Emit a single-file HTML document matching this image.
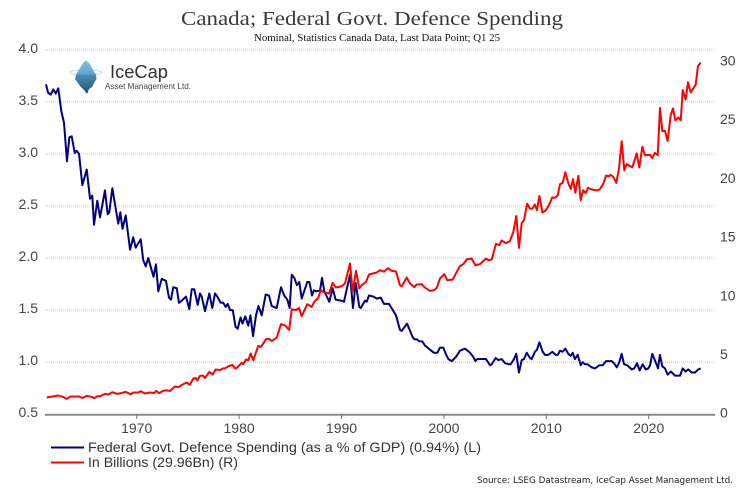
<!DOCTYPE html>
<html lang="en">
<head>
<meta charset="utf-8">
<title>Canada; Federal Govt. Defence Spending</title>
<style>
html,body{margin:0;padding:0;background:#fff;}
body{width:750px;height:495px;overflow:hidden;}
svg{display:block;}
</style>
</head>
<body>
<svg id="chart" xmlns="http://www.w3.org/2000/svg" width="750" height="495" viewBox="0 0 750 495">
  <defs>
    <linearGradient id="ice-top" x1="0" y1="0" x2="0" y2="1"><stop offset="0" stop-color="#86c0dc"/><stop offset="1" stop-color="#5fa6c9"/></linearGradient>
    <linearGradient id="ice-bottom" x1="0" y1="0" x2="0" y2="1"><stop offset="0" stop-color="#4b8fb3"/><stop offset="1" stop-color="#1d4f70"/></linearGradient>
  </defs>
  <rect x="0" y="0" width="750" height="495" fill="#ffffff"/>
  <text x="372" y="25" text-anchor="middle" textLength="382" lengthAdjust="spacingAndGlyphs" font-family="'Liberation Serif',serif" font-size="20" fill="#3a3a3a">Canada; Federal Govt. Defence Spending</text>
  <text x="377" y="41" text-anchor="middle" textLength="246" lengthAdjust="spacingAndGlyphs" font-family="'Liberation Serif',serif" font-size="10" fill="#111">Nominal, Statistics Canada Data, Last Data Point; Q1 25</text>
  <g id="grid"></g>
  <g id="axes"></g>
  <g id="series"></g>
  <g>
    <ellipse cx="85.5" cy="72.5" rx="16" ry="2.6" fill="none" stroke="#bcdcec" stroke-width="1"/>
    <polygon points="86,60.5 90,64 93,70 96,74.5 76,74.5 80,68 83,63" fill="url(#ice-top)"/>
    <polygon points="76,74.5 96,74.5 96.5,79 94,83 92,87 89,89 87,94 84,90 80,86 78,83 75,79" fill="url(#ice-bottom)"/>
    <text x="110" y="78" textLength="58" lengthAdjust="spacingAndGlyphs" font-family="'Liberation Sans',sans-serif" font-size="18" fill="#333">IceCap</text>
    <text x="105" y="89" textLength="86" lengthAdjust="spacingAndGlyphs" font-family="'Liberation Sans',sans-serif" font-size="8.5" fill="#444">Asset Management Ltd.</text>
  </g>
  <g>
    <line x1="51" y1="447.5" x2="84" y2="447.5" stroke="#000080" stroke-width="2"/>
    <text x="88" y="452" textLength="393" lengthAdjust="spacingAndGlyphs" font-family="'Liberation Sans',sans-serif" font-size="14" fill="#333">Federal Govt. Defence Spending (as a % of GDP) (0.94%) (L)</text>
    <line x1="51" y1="462.5" x2="84" y2="462.5" stroke="#ff0000" stroke-width="2"/>
    <text x="88" y="467" textLength="150" lengthAdjust="spacingAndGlyphs" font-family="'Liberation Sans',sans-serif" font-size="14" fill="#333">In Billions (29.96Bn) (R)</text>
  </g>
  <text x="477" y="483" textLength="256" lengthAdjust="spacingAndGlyphs" font-family="'DejaVu Sans',sans-serif" font-size="8.5" fill="#222">Source: LSEG Datastream, IceCap Asset Management Ltd.</text>
</svg>
<script>
var leftTicks = ["0.5","1.0","1.5","2.0","2.5","3.0","3.5","4.0"];
var rightTicks = ["0","5","10","15","20","25","30"];
var xTicks = ["1970","1980","1990","2000","2010","2020"];

var gdpYears = [
1961.14,1961.34,1961.6,1961.86,1962.09,1962.34,1962.64,1962.9,1963.19,1963.42,
1963.65,1963.95,1964.14,1964.37,1964.69,1965.12,1965.44,1965.66,1965.83,1966.15,
1966.42,1966.9,1967.17,1967.32,1967.62,1968.2,1968.4,1968.61,1968.93,1969.35,
1969.66,1969.9,1970.39,1970.64,1970.88,1971.13,1971.64,1971.88,1972.11,1972.44,
1972.86,1973.15,1973.35,1973.57,1973.91,1974.13,1974.39,1974.81,1975.14,1975.37,
1975.62,1975.96,1976.18,1976.35,1976.67,1977.09,1977.38,1977.65,1977.87,1978.2,
1978.46,1978.69,1978.89,1979.11,1979.38,1979.65,1979.86,1980.14,1980.33,1980.6,
1980.9,1981.11,1981.36,1981.65,1981.89,1982.21,1982.6,1982.92,1983.18,1983.67,
1984.09,1984.41,1984.71,1984.94,1985.14,1985.39,1985.65,1985.88,1986.11,1986.66,
1986.86,1987.12,1987.31,1987.51,1987.9,1988.1,1988.32,1988.81,1989.14,1989.43,
1990.02,1990.24,1990.83,1991.12,1991.39,1991.74,1991.88,1992.29,1992.46,1992.69,
1993.11,1993.44,1993.83,1994.15,1994.64,1995.32,1995.71,1995.88,1996.4,1996.95,
1997.11,1997.34,1997.6,1997.89,1998.15,1998.64,1999.03,1999.36,1999.62,1999.94,
2000.18,2000.43,2000.76,2001.18,2001.57,2002.06,2002.55,2002.87,2003.07,2003.26,
2004.11,2004.5,2004.67,2005.06,2005.31,2005.64,2005.97,2006.29,2006.52,2006.85,
2007.07,2007.33,2007.6,2007.82,2008.09,2008.41,2008.57,2008.9,2009.09,2009.32,
2009.65,2009.87,2010.2,2010.59,2010.92,2011.11,2011.34,2011.6,2011.86,2012.15,
2012.38,2012.58,2012.8,2013.07,2013.36,2013.55,2013.78,2014.0,2014.43,2014.75,
2015.18,2015.51,2015.83,2016.39,2016.61,2016.88,2017.13,2017.36,2017.59,2017.91,
2018.34,2018.59,2018.86,2019.12,2019.41,2019.71,2019.96,2020.13,2020.35,2020.68,
2020.91,2021.1,2021.33,2021.59,2021.85,2022.18,2022.57,2023.06,2023.32,2023.61,
2023.87,2024.2,2024.52,2024.84,2025.08
];
var gdpShare = [
3.67,3.59,3.57,3.62,3.58,3.63,3.41,3.30,2.93,3.16,
3.17,3.01,3.03,3.00,2.70,2.85,2.57,2.60,2.32,2.55,
2.39,2.65,2.42,2.44,2.67,2.33,2.44,2.28,2.41,2.08,
2.20,2.10,2.18,1.98,1.92,2.00,1.82,1.94,1.68,1.80,
1.78,1.62,1.60,1.72,1.71,1.57,1.59,1.63,1.51,1.70,
1.70,1.55,1.66,1.63,1.49,1.66,1.52,1.66,1.63,1.57,
1.57,1.53,1.56,1.50,1.50,1.34,1.32,1.43,1.37,1.44,
1.35,1.45,1.25,1.45,1.54,1.45,1.65,1.64,1.54,1.52,
1.72,1.64,1.60,1.52,1.84,1.81,1.74,1.77,1.61,1.77,
1.77,1.64,1.69,1.68,1.69,1.81,1.68,1.58,1.71,1.60,
1.59,1.58,1.84,1.52,1.76,1.53,1.52,1.59,1.58,1.64,
1.63,1.61,1.62,1.56,1.56,1.45,1.31,1.30,1.37,1.24,
1.22,1.22,1.20,1.20,1.16,1.12,1.09,1.09,1.14,1.14,
1.08,1.03,1.01,1.05,1.11,1.13,1.09,1.05,1.01,1.03,
1.03,0.97,0.98,1.04,1.02,1.03,0.99,0.98,0.98,1.03,
1.08,0.90,1.02,1.03,1.09,1.04,1.03,1.10,1.12,1.19,
1.10,1.07,1.07,1.10,1.07,1.07,1.11,1.10,1.13,1.08,
1.06,1.09,1.03,1.07,0.97,1.00,0.98,0.98,0.95,0.94,
0.97,0.97,1.01,1.01,0.99,0.95,1.00,1.08,0.98,0.97,
0.93,0.94,0.99,0.92,0.98,0.93,0.94,0.97,1.08,1.00,
0.94,1.07,0.96,0.94,0.88,0.91,0.87,0.87,0.94,0.91,
0.93,0.90,0.90,0.93,0.94
];

var billionYears = [
1961.21,1962.34,1962.83,1963.16,1963.55,1964.3,1964.73,1965.12,1965.61,1965.86,
1966.15,1966.42,1966.9,1967.23,1967.62,1968.11,1968.54,1968.93,1969.41,1969.67,
1970.16,1970.39,1970.81,1971.3,1971.72,1971.91,1972.21,1972.54,1972.93,1973.25,
1973.74,1974.06,1974.55,1974.88,1975.18,1975.53,1975.76,1975.92,1976.18,1976.45,
1976.67,1977.09,1977.42,1977.71,1978.13,1978.4,1978.65,1978.95,1979.34,1979.63,
1979.82,1980.25,1980.41,1980.67,1980.9,1981.13,1981.39,1981.87,1982.14,1982.63,
1982.89,1983.18,1983.67,1984.09,1984.48,1984.89,1985.14,1985.53,1985.85,1986.11,
1986.66,1987.09,1987.34,1987.73,1987.97,1988.22,1988.78,1989.14,1989.46,1990.02,
1990.34,1990.83,1991.09,1991.42,1991.74,1991.97,1992.39,1992.69,1993.44,1993.76,
1994.15,1994.54,1994.9,1995.32,1995.71,1995.88,1996.37,1996.69,1997.11,1997.34,
1997.83,1998.15,1998.64,1999.03,1999.3,1999.62,2000.04,2000.33,2000.86,2001.25,
2001.57,2001.89,2002.23,2002.71,2003.07,2003.52,2004.11,2004.34,2004.67,2005.09,
2005.41,2005.64,2006.06,2006.45,2006.78,2007.07,2007.33,2007.6,2007.82,2008.13,
2008.41,2008.65,2008.87,2009.09,2009.32,2009.63,2009.97,2010.33,2010.57,2010.87,
2011.12,2011.34,2011.6,2011.86,2012.17,2012.39,2012.61,2012.83,2013.13,2013.36,
2013.6,2013.85,2014.07,2014.43,2014.92,2015.24,2015.57,2015.83,2016.09,2016.29,
2016.54,2016.84,2017.1,2017.36,2017.62,2017.85,2018.17,2018.4,2018.83,2019.08,
2019.38,2019.64,2020.13,2020.35,2020.59,2020.88,2021.1,2021.33,2021.59,2021.85,
2022.15,2022.37,2022.6,2022.89,2023.13,2023.32,2023.61,2023.84,2024.1,2024.59,
2024.81,2025.08
];
var billionValues = [
1.42,1.59,1.47,1.30,1.51,1.51,1.39,1.56,1.47,1.36,
1.53,1.53,1.73,1.68,1.87,1.73,1.81,1.90,1.70,1.85,
1.85,1.96,1.76,1.85,1.81,1.98,1.79,1.98,2.04,1.98,
2.36,2.30,2.56,2.70,2.50,3.04,3.09,2.87,3.26,3.30,
3.09,3.60,3.38,3.81,3.75,3.89,3.92,4.09,4.20,3.89,
3.98,4.37,4.26,4.66,4.60,5.17,4.60,5.83,5.73,6.39,
6.43,6.24,6.52,7.67,7.56,7.18,8.94,8.86,9.05,8.35,
9.37,9.14,9.57,9.91,10.56,10.42,10.28,11.18,10.79,10.90,
11.13,12.84,10.42,12.21,10.71,10.99,11.27,11.90,12.07,12.27,
12.14,12.44,12.21,12.16,10.99,10.90,11.64,11.13,10.82,11.05,
11.07,10.79,10.50,10.56,10.76,11.56,11.93,11.41,11.47,12.12,
12.61,12.78,13.18,13.26,12.69,12.78,13.26,13.12,13.18,14.52,
14.40,14.80,14.57,14.74,15.53,16.88,14.17,16.29,16.52,17.93,
17.50,17.52,17.86,17.38,18.59,17.18,17.38,17.95,18.46,18.44,
18.65,19.59,19.70,20.61,19.62,19.18,20.03,18.87,20.30,18.23,
19.08,18.84,19.29,19.14,19.06,19.17,19.65,20.32,20.27,20.38,
20.21,19.70,20.93,23.25,20.78,21.30,21.12,21.04,22.21,21.01,
22.77,22.06,22.09,21.81,22.26,22.06,26.09,24.11,24.13,23.28,
25.47,26.04,25.04,25.27,25.04,27.60,26.81,28.28,27.40,28.08,
29.64,29.96
];

var SVG_NS = "http://www.w3.org/2000/svg";
function xScale(year){ return 136.7 + (year - 1970) * 10.24; }
function yLeft(v){ return 414.2 - (v - 0.5) * 104.1; }
function yRight(v){ return 414.2 - v * 11.74; }
function make(tag, attrs, parent){
  var el = document.createElementNS(SVG_NS, tag);
  for (var k in attrs) el.setAttribute(k, attrs[k]);
  parent.appendChild(el);
  return el;
}
function pathFrom(xs, ys, yFn){
  var d = "";
  var n = Math.min(xs.length, ys.length);
  for (var i = 0; i < n; i++){
    d += (i ? "L" : "M") + xScale(xs[i]).toFixed(2) + " " + yFn(ys[i]).toFixed(2);
  }
  return d;
}
var FONT = "'Liberation Sans',sans-serif";
var grid = document.getElementById("grid");
var axes = document.getElementById("axes");
var series = document.getElementById("series");

leftTicks.forEach(function(t){
  var v = parseFloat(t);
  var y = yLeft(v);
  if (v > 0.5){
    var g = make("line", {x1:45, x2:715, y1:y, y2:y, stroke:"#c4c4c4", "stroke-width":1, "stroke-dasharray":"1 1"}, grid);
    
    
  }
  var l = make("text", {x:38, y:y + 3, "text-anchor":"end", "font-family":FONT, "font-size":14, fill:"#444"}, axes);
  
  
  l.textContent = t;
});
rightTicks.forEach(function(t){
  var y = yRight(parseFloat(t));
  var l = make("text", {x:720, y:y + 3.5, "font-family":FONT, "font-size":14, fill:"#444"}, axes);
  
  
  l.textContent = t;
});
var axisLine = make("line", {x1:45, x2:715, y1:414.7, y2:414.7, stroke:"#8a8a8a", "stroke-width":2}, axes);


xTicks.forEach(function(t){
  var x = xScale(parseFloat(t));
  var tick = make("line", {x1:x, x2:x, y1:415, y2:419, stroke:"#777", "stroke-width":1}, axes);
  
  
  var l = make("text", {x:x, y:433, "text-anchor":"middle", "font-family":FONT, "font-size":14, fill:"#444"}, axes);
  
  
  l.textContent = t;
});
var gdpLine = make("path", {d:pathFrom(gdpYears, gdpShare, yLeft), fill:"none", stroke:"#000080", "stroke-width":2, "stroke-linejoin":"round"}, series);


var billionLine = make("path", {d:pathFrom(billionYears, billionValues, yRight), fill:"none", stroke:"#ff0000", "stroke-width":2, "stroke-linejoin":"round"}, series);


</script>
</body>
</html>
